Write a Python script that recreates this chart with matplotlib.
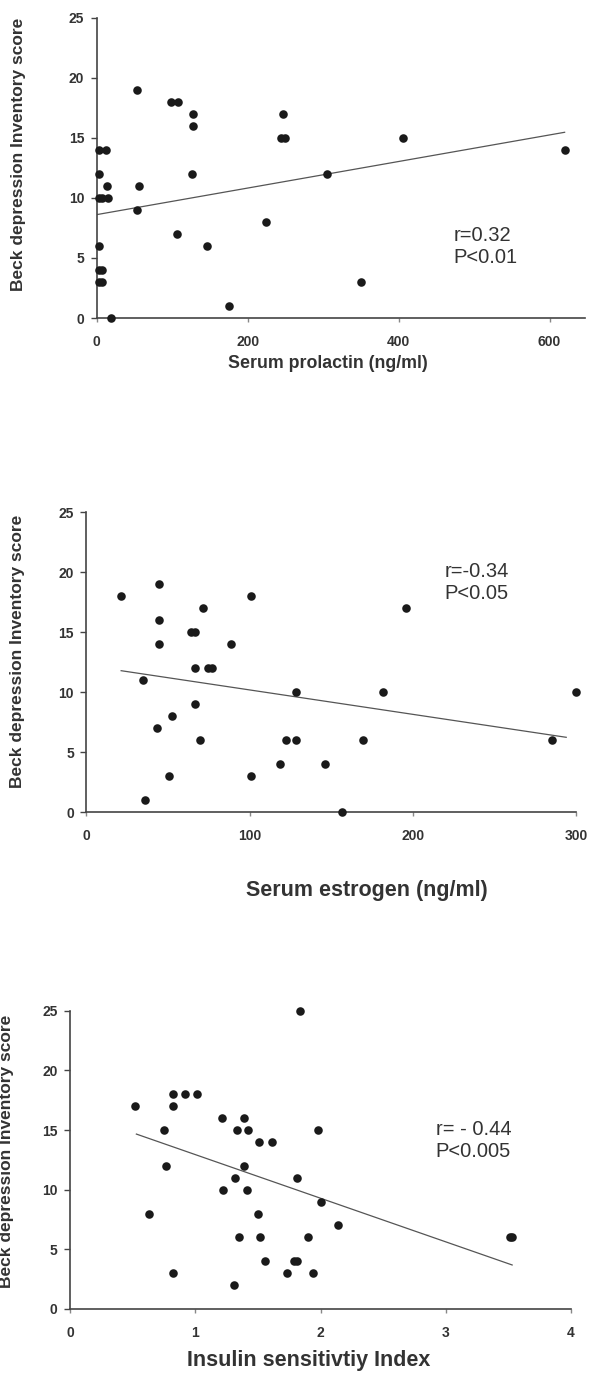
import numpy as np
import matplotlib
matplotlib.use("Agg")
import matplotlib.pyplot as plt

plt.rcParams['font.family'] = ['Liberation Sans', 'DejaVu Sans']

# panel 1: serum prolactin vs BDI
prl_x = [2.5, 12.6, 2.5, 13.5, 2.5, 7.6, 15, 3, 2.5, 7.5, 2.5, 7.5, 19.5,
         53.5, 55.5, 53.5, 98.5, 107.5, 128, 128, 126, 106, 146.5, 175.5,
         224, 244, 249, 247, 305, 350, 406, 620]
prl_y = [14, 14, 12, 11, 10, 10, 10, 6, 4, 4, 3, 3, 0,
         19, 11, 9, 18, 18, 17, 16, 12, 7, 6, 1,
         8, 15, 15, 17, 12, 3, 15, 14]
prl_fit_x = [0, 620]
prl_fit_y = [8.6, 15.45]

# panel 2: serum estrogen vs BDI
est_x = [21, 34.5, 36, 43, 44.5, 44.5, 44.5, 50.5, 52.5, 64, 66.5, 66.5, 66.5,
         69.5, 71.5, 74.5, 77, 88.5, 101, 101, 118.5, 122.5, 128.5, 128.5,
         146, 156.5, 169.5, 181.5, 196, 285.5, 300]
est_y = [18, 11, 1, 7, 19, 16, 14, 3, 8, 15, 15, 12, 9,
         6, 17, 12, 12, 14, 18, 3, 4, 6, 6, 10,
         4, 0, 6, 10, 17, 6, 10]
est_fit_x = [21.3, 294]
est_fit_y = [11.8, 6.25]

# panel 3: insulin sensitivity vs BDI
ins_x = [0.52, 0.63, 0.75, 0.77, 0.82, 0.82, 0.82, 0.92, 1.01, 1.21, 1.22,
         1.31, 1.32, 1.33, 1.35, 1.39, 1.39, 1.42, 1.41, 1.50, 1.51, 1.52,
         1.56, 1.61, 1.73, 1.79, 1.81, 1.81, 1.84, 1.90, 1.94, 1.98, 2.00,
         2.14, 3.51, 3.53]
ins_y = [17, 8, 15, 12, 3, 17, 18, 18, 18, 16, 10,
         2, 11, 15, 6, 16, 12, 15, 10, 8, 14, 6,
         4, 14, 3, 4, 4, 11, 25, 6, 3, 15, 9,
         7, 6, 6]
ins_fit_x = [0.53, 3.53]
ins_fit_y = [14.66, 3.69]

ylab = "Beck depression Inventory score"
yticks = [0, 5, 10, 15, 20, 25]

W, H = 593, 1373
fig = plt.figure(figsize=(W / 100, H / 100), dpi=100)


def box(l, r, t, b):
    return [l / W, 1 - b / H, (r - l) / W, (b - t) / H]


panels = [
    dict(pos=box(96.7, 585, 17.5, 318), x=prl_x, y=prl_y, fx=prl_fit_x, fy=prl_fit_y,
         xlim=(0, 647), xticks=[0, 200, 400, 600], xlabel="Serum prolactin (ng/ml)",
         xl_size=12.8, xl_pos=(0.474, -0.15), yl_pos=(-0.16, 0.546),
         note="r=0.32\nP<0.01", note_pos=(0.73, 0.238)),
    dict(pos=box(86.4, 576, 512.3, 812.3), x=est_x, y=est_y, fx=est_fit_x, fy=est_fit_y,
         xlim=(0, 300), xticks=[0, 100, 200, 300], xlabel="Serum estrogen (ng/ml)",
         xl_size=15.5, xl_pos=(0.573, -0.26), yl_pos=(-0.14, 0.538),
         note="r=-0.34\nP<0.05", note_pos=(0.732, 0.766)),
    dict(pos=box(70, 571, 1010.7, 1309), x=ins_x, y=ins_y, fx=ins_fit_x, fy=ins_fit_y,
         xlim=(0, 4), xticks=[0, 1, 2, 3, 4], xlabel="Insulin sensitivtiy Index",
         xl_size=15.5, xl_pos=(0.476, -0.171), yl_pos=(-0.126, 0.527),
         note="r= - 0.44\nP<0.005", note_pos=(0.73, 0.565)),
]

for p in panels:
    ax = fig.add_axes(p["pos"])
    ax.plot(p["fx"], p["fy"], color="#555555", lw=0.9)
    ax.scatter(p["x"], p["y"], s=38, color="#1a1a1a", zorder=3, clip_on=False, linewidths=0)
    ax.set_xlim(*p["xlim"])
    ax.set_ylim(0, 25)
    ax.set_xticks(p["xticks"])
    ax.set_yticks(yticks)
    for side in ["top", "right"]:
        ax.spines[side].set_visible(False)
    for side in ["left", "bottom"]:
        ax.spines[side].set_color("#444444")
        ax.spines[side].set_linewidth(1.2)
    ax.tick_params(axis="y", direction="out", length=4, width=1, color="#444444",
                   labelsize=10, labelcolor="#333333", pad=5)
    ax.tick_params(axis="x", direction="out", length=3, width=1, color="#888888",
                   labelsize=10, labelcolor="#333333", pad=9)
    for lab in ax.get_xticklabels() + ax.get_yticklabels():
        lab.set_fontweight("bold")
    ax.set_xlabel(p["xlabel"], fontsize=p["xl_size"], fontweight="bold", color="#333333")
    ax.xaxis.set_label_coords(*p["xl_pos"])
    ax.xaxis.label.set_va("center")
    ax.set_ylabel(ylab, fontsize=12.5, fontweight="bold", color="#333333")
    ax.yaxis.set_label_coords(*p["yl_pos"])
    ax.yaxis.label.set_va("center")
    ax.text(p["note_pos"][0], p["note_pos"][1], p["note"], transform=ax.transAxes,
            fontsize=14.5, color="#333333", va="center", ha="left", linespacing=1.25)

fig.savefig("out.png", dpi=100, facecolor="white")
